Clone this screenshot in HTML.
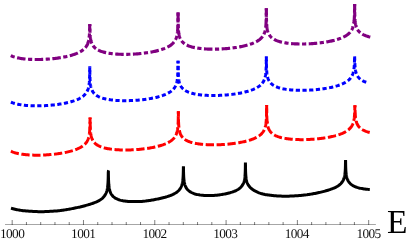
<!DOCTYPE html>
<html><head><meta charset="utf-8"><title>plot</title>
<style>
html,body{margin:0;padding:0;background:#fff;overflow:hidden}
svg{display:block}
.c{fill:none;stroke-width:3;stroke-linejoin:miter;stroke-miterlimit:3;stroke-linecap:butt}
.t{text-rendering:geometricPrecision;font-family:"Liberation Serif",serif;font-size:13.3px;letter-spacing:-0.6px;text-anchor:middle;fill:#111}
.e{font-family:"Liberation Serif",serif;font-size:33.5px;fill:#000}
</style></head><body>
<svg width="407" height="241" viewBox="0 0 407 241">
<rect width="407" height="241" fill="#fff"/>
<path class="c" style="stroke-width:3.15" stroke="#800080" stroke-dasharray="4.2 2.5 8.5 2.5" stroke-dashoffset="0" d="M10.75 55.66 L11.75 56.09 L12.75 56.47 L13.75 56.82 L14.75 57.12 L15.75 57.4 L16.75 57.65 L17.75 57.87 L18.75 58.07 L19.75 58.26 L20.75 58.43 L21.75 58.58 L22.75 58.72 L23.75 58.84 L24.75 58.95 L25.75 59.05 L26.75 59.14 L27.75 59.21 L28.75 59.28 L29.75 59.34 L30.75 59.39 L31.75 59.43 L32.75 59.47 L33.75 59.49 L34.75 59.51 L35.75 59.52 L36.75 59.52 L37.75 59.52 L38.75 59.51 L39.75 59.49 L40.75 59.47 L41.75 59.44 L42.75 59.4 L43.75 59.36 L44.75 59.31 L45.75 59.25 L46.75 59.19 L47.75 59.12 L48.75 59.04 L49.75 58.96 L50.75 58.87 L51.75 58.78 L52.75 58.68 L53.75 58.57 L54.75 58.45 L55.75 58.33 L56.75 58.2 L57.75 58.07 L58.75 57.92 L59.75 57.77 L60.75 57.61 L61.75 57.44 L62.75 57.26 L63.75 57.07 L64.75 56.88 L65.75 56.67 L66.75 56.45 L67.75 56.22 L68.75 55.98 L69.75 55.72 L70.75 55.45 L71.75 55.16 L72.75 54.85 L73.75 54.53 L74.75 54.18 L75.75 53.81 L76.75 53.41 L77.75 52.98 L78.75 52.51 L79.75 52 L80.75 51.43 L81.75 50.81 L81.78 50.79 L82.75 50.1 L82.78 50.08 L83.75 49.29 L83.78 49.26 L84.75 48.33 L84.78 48.3 L85.75 47.18 L85.78 47.14 L86.28 46.44 L86.75 45.7 L86.78 45.65 L87.28 44.71 L87.75 43.64 L87.78 43.57 L88.03 42.89 L88.28 42.1 L88.53 41.18 L88.75 40.2 L88.78 40.05 L88.98 38.92 L89.13 37.87 L89.28 36.55 L89.38 35.43 L89.48 33.99 L89.58 31.95 L89.63 30.51 L89.68 28.48 L89.73 25.01 L89.78 24.15"/>
<path class="c" style="stroke-width:3.15" stroke="#800080" stroke-dasharray="4.2 2.5 8.5 2.5" stroke-dashoffset="13.33" d="M89.78 24.15 L89.83 25.01 L89.88 28.47 L89.93 30.49 L89.98 31.93 L90.08 33.95 L90.18 35.38 L90.28 36.49 L90.43 37.8 L90.58 38.83 L90.75 39.78 L90.78 39.93 L91.03 41.03 L91.28 41.93 L91.53 42.68 L91.75 43.26 L91.78 43.33 L92.28 44.42 L92.75 45.25 L92.78 45.3 L93.28 46.03 L93.75 46.63 L93.78 46.67 L94.75 47.69 L94.78 47.72 L95.75 48.53 L95.78 48.56 L96.75 49.24 L96.78 49.26 L97.75 49.83 L97.78 49.85 L98.75 50.35 L99.75 50.8 L100.75 51.19 L101.75 51.55 L102.75 51.86 L103.75 52.15 L104.75 52.4 L105.75 52.63 L106.75 52.84 L107.75 53.03 L108.75 53.2 L109.75 53.36 L110.75 53.5 L111.75 53.63 L112.75 53.74 L113.75 53.85 L114.75 53.94 L115.75 54.02 L116.75 54.09 L117.75 54.15 L118.75 54.2 L119.75 54.25 L120.75 54.28 L121.75 54.31 L122.75 54.33 L123.75 54.34 L124.75 54.35 L125.75 54.34 L126.75 54.34 L127.75 54.32 L128.75 54.3 L129.75 54.27 L130.75 54.23 L131.75 54.19 L132.75 54.14 L133.75 54.09 L134.75 54.03 L135.75 53.96 L136.75 53.89 L137.75 53.81 L138.75 53.72 L139.75 53.63 L140.75 53.53 L141.75 53.42 L142.75 53.31 L143.75 53.19 L144.75 53.06 L145.75 52.93 L146.75 52.79 L147.75 52.64 L148.75 52.48 L149.75 52.31 L150.75 52.14 L151.75 51.95 L152.75 51.76 L153.75 51.55 L154.75 51.34 L155.75 51.11 L156.75 50.87 L157.75 50.62 L158.75 50.35 L159.75 50.06 L160.75 49.76 L161.75 49.44 L162.75 49.1 L163.75 48.74 L164.75 48.35 L165.75 47.93 L166.75 47.47 L167.75 46.97 L168.75 46.42 L169.75 45.81 L170.06 45.61 L170.75 45.13 L171.06 44.9 L171.75 44.35 L172.06 44.08 L172.75 43.44 L173.06 43.13 L173.75 42.35 L174.06 41.96 L174.56 41.27 L174.75 40.98 L175.06 40.47 L175.56 39.53 L175.75 39.13 L176.06 38.39 L176.31 37.71 L176.56 36.92 L176.75 36.24 L176.81 36 L177.06 34.87 L177.26 33.74 L177.41 32.7 L177.56 31.38 L177.66 30.25 L177.75 28.97 L177.76 28.81 L177.86 26.78 L177.91 25.34 L177.96 23.3 L178.01 19.84 L178.06 12.35"/>
<path class="c" style="stroke-width:3.15" stroke="#800080" stroke-dasharray="4.2 2.5 8.5 2.5" stroke-dashoffset="6.25" d="M178.06 12.35 L178.11 19.83 L178.16 23.29 L178.21 25.32 L178.26 26.75 L178.36 28.77 L178.46 30.21 L178.56 31.32 L178.71 32.62 L178.75 32.92 L178.86 33.65 L179.06 34.75 L179.31 35.85 L179.56 36.75 L179.75 37.33 L179.81 37.5 L180.06 38.16 L180.56 39.24 L180.75 39.59 L181.06 40.12 L181.56 40.86 L181.75 41.11 L182.06 41.49 L182.75 42.24 L183.06 42.54 L183.75 43.14 L184.06 43.38 L184.75 43.88 L185.06 44.08 L185.75 44.5 L186.06 44.67 L186.75 45.03 L187.75 45.5 L188.75 45.91 L189.75 46.28 L190.75 46.6 L191.75 46.89 L192.75 47.16 L193.75 47.39 L194.75 47.61 L195.75 47.8 L196.75 47.98 L197.75 48.14 L198.75 48.29 L199.75 48.42 L200.75 48.54 L201.75 48.64 L202.75 48.74 L203.75 48.82 L204.75 48.89 L205.75 48.96 L206.75 49.01 L207.75 49.06 L208.75 49.1 L209.75 49.12 L210.75 49.15 L211.75 49.16 L212.75 49.17 L213.75 49.17 L214.75 49.16 L215.75 49.15 L216.75 49.13 L217.75 49.1 L218.75 49.07 L219.75 49.03 L220.75 48.98 L221.75 48.93 L222.75 48.87 L223.75 48.8 L224.75 48.73 L225.75 48.65 L226.75 48.57 L227.75 48.48 L228.75 48.38 L229.75 48.28 L230.75 48.17 L231.75 48.05 L232.75 47.92 L233.75 47.79 L234.75 47.65 L235.75 47.5 L236.75 47.35 L237.75 47.18 L238.75 47.01 L239.75 46.83 L240.75 46.64 L241.75 46.43 L242.75 46.22 L243.75 46 L244.75 45.76 L245.75 45.51 L246.75 45.25 L247.75 44.97 L248.75 44.67 L249.75 44.36 L250.75 44.02 L251.75 43.67 L252.75 43.28 L253.75 42.87 L254.75 42.42 L255.75 41.94 L256.75 41.4 L257.75 40.81 L258.34 40.43 L258.75 40.15 L259.34 39.72 L259.75 39.4 L260.34 38.91 L260.75 38.53 L261.34 37.95 L261.75 37.5 L262.34 36.78 L262.75 36.22 L262.84 36.09 L263.34 35.29 L263.75 34.54 L263.84 34.36 L264.34 33.21 L264.59 32.53 L264.75 32.04 L264.84 31.75 L265.09 30.82 L265.34 29.69 L265.54 28.57 L265.69 27.52 L265.75 27.03 L265.84 26.2 L265.94 25.08 L266.04 23.63 L266.14 21.6 L266.19 20.16 L266.24 18.13 L266.29 14.66 L266.34 8.15"/>
<path class="c" style="stroke-width:3.15" stroke="#800080" stroke-dasharray="4.2 2.5 8.5 2.5" stroke-dashoffset="8.42" d="M266.34 8.15 L266.39 14.65 L266.44 18.12 L266.49 20.14 L266.54 21.58 L266.64 23.6 L266.74 25.03 L266.75 25.15 L266.84 26.14 L266.99 27.44 L267.14 28.47 L267.34 29.58 L267.59 30.68 L267.75 31.27 L267.84 31.57 L268.09 32.33 L268.34 32.98 L268.75 33.89 L268.84 34.06 L269.34 34.94 L269.75 35.56 L269.84 35.68 L270.34 36.32 L270.75 36.78 L271.34 37.36 L271.75 37.73 L272.34 38.2 L272.75 38.51 L273.34 38.9 L273.75 39.16 L274.34 39.5 L274.75 39.71 L275.75 40.2 L276.75 40.62 L277.75 41 L278.75 41.34 L279.75 41.64 L280.75 41.91 L281.75 42.15 L282.75 42.37 L283.75 42.58 L284.75 42.76 L285.75 42.92 L286.75 43.07 L287.75 43.21 L288.75 43.33 L289.75 43.44 L290.75 43.53 L291.75 43.62 L292.75 43.7 L293.75 43.76 L294.75 43.82 L295.75 43.87 L296.75 43.91 L297.75 43.94 L298.75 43.96 L299.75 43.98 L300.75 43.99 L301.75 43.99 L302.75 43.99 L303.75 43.98 L304.75 43.96 L305.75 43.93 L306.75 43.9 L307.75 43.86 L308.75 43.82 L309.75 43.77 L310.75 43.71 L311.75 43.65 L312.75 43.58 L313.75 43.5 L314.75 43.42 L315.75 43.33 L316.75 43.23 L317.75 43.13 L318.75 43.02 L319.75 42.91 L320.75 42.78 L321.75 42.65 L322.75 42.51 L323.75 42.37 L324.75 42.21 L325.75 42.05 L326.75 41.88 L327.75 41.7 L328.75 41.51 L329.75 41.31 L330.75 41.1 L331.75 40.88 L332.75 40.65 L333.75 40.41 L334.75 40.15 L335.75 39.87 L336.75 39.58 L337.75 39.27 L338.75 38.94 L339.75 38.59 L340.75 38.22 L341.75 37.81 L342.75 37.38 L343.75 36.9 L344.75 36.38 L345.75 35.81 L346.62 35.26 L346.75 35.17 L347.62 34.55 L347.75 34.45 L348.62 33.73 L348.75 33.62 L349.62 32.77 L349.75 32.63 L350.62 31.61 L350.75 31.44 L351.12 30.91 L351.62 30.12 L351.75 29.89 L352.12 29.18 L352.62 28.04 L352.75 27.69 L352.87 27.36 L353.12 26.57 L353.37 25.65 L353.62 24.52 L353.75 23.81 L353.82 23.39 L353.97 22.34 L354.12 21.02 L354.22 19.9 L354.32 18.46 L354.42 16.42 L354.47 14.98 L354.52 12.95 L354.57 9.48 L354.62 4.05"/>
<path class="c" style="stroke-width:3.15" stroke="#800080" stroke-dasharray="4.2 2.5 8.5 2.5" stroke-dashoffset="9.43" d="M354.62 4.05 L354.67 9.48 L354.72 12.94 L354.75 14.25 L354.77 14.96 L354.82 16.4 L354.92 18.42 L355.02 19.85 L355.12 20.96 L355.27 22.27 L355.42 23.3 L355.62 24.4 L355.75 25 L355.87 25.5 L356.12 26.4 L356.37 27.15 L356.62 27.8 L356.75 28.11 L357.12 28.89 L357.62 29.77 L357.75 29.97 L358.12 30.5 L358.62 31.14 L358.75 31.29 L359.62 32.19 L359.75 32.31 L360.62 33.03 L360.75 33.13 L361.62 33.73 L361.75 33.81 L362.62 34.32 L362.75 34.39 L363.75 34.89 L364.75 35.33 L365.75 35.72 L366.75 36.07 L367.75 36.38 L368.75 36.66 L369.75 36.91 L370.5 37.08"/>
<path class="c" stroke="#0000ff" stroke-dasharray="4.2 2.5" stroke-dashoffset="0" d="M10.9 102.07 L11.9 102.5 L12.9 102.88 L13.9 103.21 L14.9 103.52 L15.9 103.79 L16.9 104.03 L17.9 104.25 L18.9 104.45 L19.9 104.64 L20.9 104.8 L21.9 104.95 L22.9 105.08 L23.9 105.21 L24.9 105.32 L25.9 105.41 L26.9 105.5 L27.9 105.58 L28.9 105.64 L29.9 105.7 L30.9 105.75 L31.9 105.79 L32.9 105.82 L33.9 105.84 L34.9 105.86 L35.9 105.87 L36.9 105.87 L37.9 105.87 L38.9 105.86 L39.9 105.84 L40.9 105.81 L41.9 105.78 L42.9 105.74 L43.9 105.7 L44.9 105.65 L45.9 105.59 L46.9 105.53 L47.9 105.46 L48.9 105.38 L49.9 105.3 L50.9 105.21 L51.9 105.11 L52.9 105.01 L53.9 104.9 L54.9 104.79 L55.9 104.66 L56.9 104.53 L57.9 104.4 L58.9 104.25 L59.9 104.1 L60.9 103.93 L61.9 103.76 L62.9 103.58 L63.9 103.4 L64.9 103.2 L65.9 102.99 L66.9 102.77 L67.9 102.53 L68.9 102.29 L69.9 102.03 L70.9 101.75 L71.9 101.46 L72.9 101.15 L73.9 100.83 L74.9 100.48 L75.9 100.1 L76.9 99.7 L77.9 99.26 L78.9 98.79 L79.9 98.27 L80.9 97.7 L81.78 97.14 L81.9 97.06 L82.78 96.43 L82.9 96.34 L83.78 95.61 L83.9 95.5 L84.78 94.65 L84.9 94.53 L85.78 93.49 L85.9 93.33 L86.28 92.79 L86.78 92 L86.9 91.79 L87.28 91.06 L87.78 89.92 L87.9 89.6 L88.03 89.24 L88.28 88.45 L88.53 87.53 L88.78 86.4 L88.9 85.75 L88.98 85.27 L89.13 84.22 L89.28 82.9 L89.38 81.78 L89.48 80.34 L89.58 78.3 L89.63 76.86 L89.68 74.83 L89.73 71.36 L89.78 66.3"/>
<path class="c" stroke="#0000ff" stroke-dasharray="4.2 2.5" stroke-dashoffset="2.71" d="M89.78 66.3 L89.83 71.36 L89.88 74.82 L89.9 75.73 L89.93 76.84 L89.98 78.28 L90.08 80.3 L90.18 81.73 L90.28 82.84 L90.43 84.15 L90.58 85.18 L90.78 86.28 L90.9 86.84 L91.03 87.38 L91.28 88.28 L91.53 89.03 L91.78 89.68 L91.9 89.97 L92.28 90.77 L92.78 91.65 L92.9 91.83 L93.28 92.38 L93.78 93.02 L93.9 93.16 L94.78 94.07 L94.9 94.18 L95.78 94.91 L95.9 95 L96.78 95.61 L96.9 95.68 L97.78 96.2 L97.9 96.26 L98.9 96.77 L99.9 97.21 L100.9 97.6 L101.9 97.95 L102.9 98.26 L103.9 98.54 L104.9 98.79 L105.9 99.02 L106.9 99.22 L107.9 99.41 L108.9 99.58 L109.9 99.73 L110.9 99.87 L111.9 100 L112.9 100.11 L113.9 100.21 L114.9 100.3 L115.9 100.38 L116.9 100.45 L117.9 100.51 L118.9 100.56 L119.9 100.6 L120.9 100.64 L121.9 100.66 L122.9 100.68 L123.9 100.69 L124.9 100.7 L125.9 100.69 L126.9 100.68 L127.9 100.67 L128.9 100.64 L129.9 100.61 L130.9 100.58 L131.9 100.53 L132.9 100.49 L133.9 100.43 L134.9 100.37 L135.9 100.3 L136.9 100.23 L137.9 100.15 L138.9 100.06 L139.9 99.96 L140.9 99.86 L141.9 99.76 L142.9 99.64 L143.9 99.52 L144.9 99.39 L145.9 99.26 L146.9 99.11 L147.9 98.96 L148.9 98.8 L149.9 98.64 L150.9 98.46 L151.9 98.27 L152.9 98.08 L153.9 97.87 L154.9 97.65 L155.9 97.42 L156.9 97.18 L157.9 96.93 L158.9 96.66 L159.9 96.37 L160.9 96.07 L161.9 95.74 L162.9 95.4 L163.9 95.03 L164.9 94.64 L165.9 94.21 L166.9 93.75 L167.9 93.24 L168.9 92.68 L169.9 92.07 L170.06 91.96 L170.9 91.37 L171.06 91.25 L171.9 90.57 L172.06 90.43 L172.9 89.64 L173.06 89.48 L173.9 88.52 L174.06 88.31 L174.56 87.62 L174.9 87.09 L175.06 86.82 L175.56 85.88 L175.9 85.13 L176.06 84.74 L176.31 84.06 L176.56 83.27 L176.81 82.35 L176.9 81.97 L177.06 81.22 L177.26 80.09 L177.41 79.05 L177.56 77.73 L177.66 76.6 L177.76 75.16 L177.86 73.13 L177.9 72.01 L177.91 71.69 L177.96 69.65 L178.01 66.19 L178.06 60.7"/>
<path class="c" stroke="#0000ff" stroke-dasharray="4.2 2.5" stroke-dashoffset="1.43" d="M178.06 60.7 L178.11 66.18 L178.16 69.64 L178.21 71.67 L178.26 73.1 L178.36 75.12 L178.46 76.56 L178.56 77.67 L178.71 78.97 L178.86 80 L178.9 80.24 L179.06 81.1 L179.31 82.2 L179.56 83.1 L179.81 83.85 L179.9 84.1 L180.06 84.51 L180.56 85.59 L180.9 86.21 L181.06 86.47 L181.56 87.21 L181.9 87.65 L182.06 87.84 L182.9 88.74 L183.06 88.89 L183.9 89.61 L184.06 89.73 L184.9 90.33 L185.06 90.43 L185.9 90.93 L186.06 91.02 L186.9 91.46 L187.9 91.91 L188.9 92.32 L189.9 92.68 L190.9 93 L191.9 93.28 L192.9 93.54 L193.9 93.78 L194.9 93.99 L195.9 94.18 L196.9 94.36 L197.9 94.51 L198.9 94.66 L199.9 94.79 L200.9 94.9 L201.9 95.01 L202.9 95.1 L203.9 95.18 L204.9 95.25 L205.9 95.32 L206.9 95.37 L207.9 95.41 L208.9 95.45 L209.9 95.48 L210.9 95.5 L211.9 95.51 L212.9 95.52 L213.9 95.52 L214.9 95.51 L215.9 95.5 L216.9 95.47 L217.9 95.45 L218.9 95.41 L219.9 95.37 L220.9 95.32 L221.9 95.27 L222.9 95.21 L223.9 95.14 L224.9 95.07 L225.9 94.99 L226.9 94.91 L227.9 94.81 L228.9 94.72 L229.9 94.61 L230.9 94.5 L231.9 94.38 L232.9 94.25 L233.9 94.12 L234.9 93.98 L235.9 93.83 L236.9 93.67 L237.9 93.51 L238.9 93.33 L239.9 93.15 L240.9 92.96 L241.9 92.75 L242.9 92.54 L243.9 92.31 L244.9 92.07 L245.9 91.82 L246.9 91.56 L247.9 91.28 L248.9 90.98 L249.9 90.66 L250.9 90.32 L251.9 89.96 L252.9 89.57 L253.9 89.15 L254.9 88.7 L255.9 88.21 L256.9 87.67 L257.9 87.07 L258.34 86.78 L258.9 86.4 L259.34 86.07 L259.9 85.63 L260.34 85.26 L260.9 84.74 L261.34 84.3 L261.9 83.68 L262.34 83.13 L262.84 82.44 L262.9 82.35 L263.34 81.64 L263.84 80.71 L263.9 80.58 L264.34 79.56 L264.59 78.88 L264.84 78.1 L264.9 77.89 L265.09 77.17 L265.34 76.04 L265.54 74.92 L265.69 73.87 L265.84 72.55 L265.9 71.91 L265.94 71.43 L266.04 69.98 L266.14 67.95 L266.19 66.51 L266.24 64.48 L266.29 61.01 L266.34 56.3"/>
<path class="c" stroke="#0000ff" stroke-dasharray="4.2 2.5" stroke-dashoffset="6" d="M266.34 56.3 L266.39 61 L266.44 64.47 L266.49 66.49 L266.54 67.93 L266.64 69.95 L266.74 71.38 L266.84 72.49 L266.9 73.05 L266.99 73.79 L267.14 74.82 L267.34 75.93 L267.59 77.03 L267.84 77.92 L267.9 78.11 L268.09 78.68 L268.34 79.33 L268.84 80.41 L268.9 80.53 L269.34 81.29 L269.84 82.03 L269.9 82.11 L270.34 82.67 L270.9 83.28 L271.34 83.71 L271.9 84.2 L272.34 84.55 L272.9 84.96 L273.34 85.25 L273.9 85.6 L274.34 85.85 L274.9 86.14 L275.9 86.62 L276.9 87.03 L277.9 87.4 L278.9 87.73 L279.9 88.03 L280.9 88.3 L281.9 88.54 L282.9 88.76 L283.9 88.95 L284.9 89.13 L285.9 89.3 L286.9 89.44 L287.9 89.57 L288.9 89.69 L289.9 89.8 L290.9 89.9 L291.9 89.98 L292.9 90.06 L293.9 90.12 L294.9 90.18 L295.9 90.23 L296.9 90.26 L297.9 90.29 L298.9 90.32 L299.9 90.33 L300.9 90.34 L301.9 90.34 L302.9 90.34 L303.9 90.32 L304.9 90.3 L305.9 90.28 L306.9 90.25 L307.9 90.21 L308.9 90.16 L309.9 90.11 L310.9 90.05 L311.9 89.99 L312.9 89.92 L313.9 89.84 L314.9 89.75 L315.9 89.66 L316.9 89.57 L317.9 89.46 L318.9 89.35 L319.9 89.24 L320.9 89.11 L321.9 88.98 L322.9 88.84 L323.9 88.7 L324.9 88.54 L325.9 88.38 L326.9 88.21 L327.9 88.02 L328.9 87.83 L329.9 87.63 L330.9 87.42 L331.9 87.2 L332.9 86.97 L333.9 86.72 L334.9 86.46 L335.9 86.18 L336.9 85.89 L337.9 85.57 L338.9 85.24 L339.9 84.89 L340.9 84.51 L341.9 84.1 L342.9 83.66 L343.9 83.18 L344.9 82.65 L345.9 82.07 L346.62 81.61 L346.9 81.42 L347.62 80.9 L347.9 80.68 L348.62 80.08 L348.9 79.83 L349.62 79.12 L349.9 78.82 L350.62 77.96 L350.9 77.58 L351.12 77.26 L351.62 76.47 L351.9 75.96 L352.12 75.53 L352.62 74.39 L352.87 73.71 L352.9 73.62 L353.12 72.92 L353.37 72 L353.62 70.87 L353.82 69.74 L353.9 69.21 L353.97 68.69 L354.12 67.37 L354.22 66.25 L354.32 64.81 L354.42 62.77 L354.47 61.33 L354.52 59.3 L354.62 56.3"/>
<path class="c" stroke="#0000ff" stroke-dasharray="4.2 2.5" stroke-dashoffset="6.62" d="M354.62 56.3 L354.72 59.29 L354.77 61.31 L354.82 62.75 L354.9 64.43 L354.92 64.77 L355.02 66.2 L355.12 67.31 L355.27 68.62 L355.42 69.65 L355.62 70.75 L355.87 71.85 L355.9 71.97 L356.12 72.75 L356.37 73.5 L356.62 74.15 L356.9 74.79 L357.12 75.24 L357.62 76.12 L357.9 76.54 L358.12 76.85 L358.62 77.49 L358.9 77.81 L359.62 78.54 L359.9 78.79 L360.62 79.38 L360.9 79.59 L361.62 80.08 L361.9 80.25 L362.62 80.67 L362.9 80.82 L363.9 81.31 L364.9 81.74 L365.9 82.13 L366.9 82.47 L367.5 82.66"/>
<path class="c" stroke="#ff0000" stroke-dasharray="8.3 2.6" stroke-dashoffset="0" d="M10.9 151.24 L11.9 151.68 L12.9 152.07 L13.9 152.42 L14.9 152.73 L15.9 153.01 L16.9 153.26 L17.9 153.49 L18.9 153.7 L19.9 153.88 L20.9 154.05 L21.9 154.21 L22.9 154.35 L23.9 154.47 L24.9 154.58 L25.9 154.68 L26.9 154.77 L27.9 154.85 L28.9 154.92 L29.9 154.98 L30.9 155.03 L31.9 155.08 L32.9 155.11 L33.9 155.14 L34.9 155.16 L35.9 155.17 L36.9 155.17 L37.9 155.17 L38.9 155.16 L39.9 155.14 L40.9 155.12 L41.9 155.09 L42.9 155.06 L43.9 155.01 L44.9 154.96 L45.9 154.91 L46.9 154.85 L47.9 154.78 L48.9 154.7 L49.9 154.62 L50.9 154.54 L51.9 154.44 L52.9 154.34 L53.9 154.24 L54.9 154.12 L55.9 154 L56.9 153.87 L57.9 153.74 L58.9 153.59 L59.9 153.44 L60.9 153.28 L61.9 153.12 L62.9 152.94 L63.9 152.75 L64.9 152.56 L65.9 152.35 L66.9 152.13 L67.9 151.9 L68.9 151.66 L69.9 151.41 L70.9 151.14 L71.9 150.85 L72.9 150.55 L73.9 150.23 L74.9 149.88 L75.9 149.52 L76.9 149.12 L77.9 148.69 L78.9 148.23 L79.9 147.73 L80.9 147.17 L81.9 146.56 L82.08 146.44 L82.9 145.86 L83.08 145.73 L83.9 145.07 L84.08 144.91 L84.9 144.14 L85.08 143.95 L85.9 143.02 L86.08 142.79 L86.58 142.09 L86.9 141.6 L87.08 141.3 L87.58 140.36 L87.9 139.66 L88.08 139.22 L88.33 138.54 L88.58 137.75 L88.83 136.83 L88.9 136.53 L89.08 135.7 L89.28 134.57 L89.43 133.52 L89.58 132.2 L89.68 131.08 L89.78 129.64 L89.88 127.6 L89.9 127.08 L89.93 126.16 L89.98 124.13 L90.03 120.66 L90.08 117.5"/>
<path class="c" stroke="#ff0000" stroke-dasharray="8.3 2.6" stroke-dashoffset="6.74" d="M90.08 117.5 L90.13 120.66 L90.18 124.12 L90.23 126.14 L90.28 127.58 L90.38 129.6 L90.48 131.03 L90.58 132.14 L90.73 133.45 L90.88 134.48 L90.9 134.6 L91.08 135.58 L91.33 136.68 L91.58 137.58 L91.83 138.33 L91.9 138.52 L92.08 138.98 L92.58 140.07 L92.9 140.65 L93.08 140.95 L93.58 141.68 L93.9 142.1 L94.08 142.32 L94.9 143.2 L95.08 143.37 L95.9 144.07 L96.08 144.21 L96.9 144.79 L97.08 144.91 L97.9 145.4 L98.08 145.5 L98.9 145.92 L99.9 146.38 L100.9 146.79 L101.9 147.15 L102.9 147.47 L103.9 147.76 L104.9 148.02 L105.9 148.25 L106.9 148.46 L107.9 148.66 L108.9 148.83 L109.9 148.99 L110.9 149.13 L111.9 149.26 L112.9 149.38 L113.9 149.48 L114.9 149.57 L115.9 149.66 L116.9 149.73 L117.9 149.79 L118.9 149.84 L119.9 149.89 L120.9 149.93 L121.9 149.96 L122.9 149.98 L123.9 149.99 L124.9 150 L125.9 149.99 L126.9 149.99 L127.9 149.97 L128.9 149.95 L129.9 149.92 L130.9 149.89 L131.9 149.85 L132.9 149.8 L133.9 149.75 L134.9 149.69 L135.9 149.62 L136.9 149.55 L137.9 149.47 L138.9 149.39 L139.9 149.29 L140.9 149.19 L141.9 149.09 L142.9 148.98 L143.9 148.86 L144.9 148.73 L145.9 148.6 L146.9 148.46 L147.9 148.31 L148.9 148.15 L149.9 147.99 L150.9 147.81 L151.9 147.63 L152.9 147.44 L153.9 147.23 L154.9 147.02 L155.9 146.79 L156.9 146.56 L157.9 146.3 L158.9 146.04 L159.9 145.76 L160.9 145.46 L161.9 145.14 L162.9 144.81 L163.9 144.44 L164.9 144.06 L165.9 143.64 L166.9 143.19 L167.9 142.7 L168.9 142.16 L169.9 141.56 L170.36 141.26 L170.9 140.89 L171.36 140.55 L171.9 140.12 L172.36 139.73 L172.9 139.24 L173.36 138.78 L173.9 138.18 L174.36 137.61 L174.86 136.92 L174.9 136.86 L175.36 136.12 L175.86 135.18 L175.9 135.1 L176.36 134.04 L176.61 133.36 L176.86 132.57 L176.9 132.44 L177.11 131.65 L177.36 130.52 L177.56 129.39 L177.71 128.35 L177.86 127.03 L177.9 126.61 L177.96 125.9 L178.06 124.46 L178.16 122.43 L178.21 120.99 L178.26 118.95 L178.31 115.49 L178.36 111.3"/>
<path class="c" stroke="#ff0000" stroke-dasharray="8.3 2.6" stroke-dashoffset="2.81" d="M178.36 111.3 L178.41 115.48 L178.46 118.94 L178.51 120.97 L178.56 122.4 L178.66 124.42 L178.76 125.86 L178.86 126.97 L178.9 127.35 L179.01 128.27 L179.16 129.3 L179.36 130.4 L179.61 131.5 L179.86 132.4 L179.9 132.53 L180.11 133.15 L180.36 133.81 L180.86 134.89 L180.9 134.97 L181.36 135.77 L181.86 136.51 L181.9 136.56 L182.36 137.14 L182.9 137.74 L183.36 138.19 L183.9 138.66 L184.36 139.03 L184.9 139.42 L185.36 139.73 L185.9 140.06 L186.36 140.32 L186.9 140.61 L187.9 141.08 L188.9 141.5 L189.9 141.87 L190.9 142.2 L191.9 142.5 L192.9 142.77 L193.9 143.01 L194.9 143.23 L195.9 143.43 L196.9 143.61 L197.9 143.77 L198.9 143.92 L199.9 144.05 L200.9 144.17 L201.9 144.28 L202.9 144.37 L203.9 144.46 L204.9 144.53 L205.9 144.6 L206.9 144.65 L207.9 144.7 L208.9 144.74 L209.9 144.77 L210.9 144.79 L211.9 144.81 L212.9 144.82 L213.9 144.82 L214.9 144.81 L215.9 144.8 L216.9 144.78 L217.9 144.76 L218.9 144.72 L219.9 144.68 L220.9 144.64 L221.9 144.59 L222.9 144.53 L223.9 144.46 L224.9 144.39 L225.9 144.32 L226.9 144.23 L227.9 144.14 L228.9 144.05 L229.9 143.94 L230.9 143.83 L231.9 143.72 L232.9 143.59 L233.9 143.46 L234.9 143.32 L235.9 143.18 L236.9 143.02 L237.9 142.86 L238.9 142.69 L239.9 142.51 L240.9 142.32 L241.9 142.11 L242.9 141.9 L243.9 141.68 L244.9 141.45 L245.9 141.2 L246.9 140.94 L247.9 140.66 L248.9 140.37 L249.9 140.06 L250.9 139.73 L251.9 139.37 L252.9 138.99 L253.9 138.58 L254.9 138.14 L255.9 137.66 L256.9 137.14 L257.9 136.56 L258.64 136.08 L258.9 135.91 L259.64 135.37 L259.9 135.17 L260.64 134.56 L260.9 134.32 L261.64 133.6 L261.9 133.32 L262.64 132.43 L262.9 132.09 L263.14 131.74 L263.64 130.94 L263.9 130.48 L264.14 130.01 L264.64 128.86 L264.89 128.18 L264.9 128.15 L265.14 127.4 L265.39 126.47 L265.64 125.34 L265.84 124.22 L265.9 123.82 L265.99 123.17 L266.14 121.85 L266.24 120.73 L266.34 119.28 L266.44 117.25 L266.49 115.81 L266.54 113.78 L266.59 110.31 L266.64 105"/>
<path class="c" stroke="#ff0000" stroke-dasharray="8.3 2.6" stroke-dashoffset="0.33" d="M266.64 105 L266.69 110.3 L266.74 113.77 L266.79 115.79 L266.84 117.23 L266.9 118.53 L266.94 119.25 L267.04 120.68 L267.14 121.79 L267.29 123.09 L267.44 124.12 L267.64 125.23 L267.89 126.33 L267.9 126.37 L268.14 127.22 L268.39 127.98 L268.64 128.63 L268.9 129.22 L269.14 129.71 L269.64 130.59 L269.9 130.99 L270.14 131.33 L270.64 131.97 L270.9 132.26 L271.64 133.01 L271.9 133.25 L272.64 133.85 L272.9 134.05 L273.64 134.55 L273.9 134.72 L274.64 135.15 L274.9 135.29 L275.9 135.78 L276.9 136.21 L277.9 136.6 L278.9 136.94 L279.9 137.24 L280.9 137.52 L281.9 137.77 L282.9 137.99 L283.9 138.2 L284.9 138.38 L285.9 138.55 L286.9 138.7 L287.9 138.84 L288.9 138.96 L289.9 139.07 L290.9 139.17 L291.9 139.26 L292.9 139.34 L293.9 139.4 L294.9 139.46 L295.9 139.51 L296.9 139.55 L297.9 139.59 L298.9 139.61 L299.9 139.63 L300.9 139.64 L301.9 139.64 L302.9 139.64 L303.9 139.63 L304.9 139.61 L305.9 139.59 L306.9 139.56 L307.9 139.52 L308.9 139.47 L309.9 139.43 L310.9 139.37 L311.9 139.31 L312.9 139.24 L313.9 139.16 L314.9 139.08 L315.9 138.99 L316.9 138.9 L317.9 138.8 L318.9 138.69 L319.9 138.57 L320.9 138.45 L321.9 138.32 L322.9 138.18 L323.9 138.04 L324.9 137.89 L325.9 137.73 L326.9 137.56 L327.9 137.38 L328.9 137.19 L329.9 137 L330.9 136.79 L331.9 136.57 L332.9 136.34 L333.9 136.09 L334.9 135.84 L335.9 135.56 L336.9 135.28 L337.9 134.97 L338.9 134.64 L339.9 134.3 L340.9 133.92 L341.9 133.52 L342.9 133.09 L343.9 132.62 L344.9 132.11 L345.9 131.55 L346.9 130.92 L346.92 130.91 L347.9 130.21 L347.92 130.2 L348.9 129.4 L348.92 129.38 L349.9 128.44 L349.92 128.42 L350.9 127.28 L350.92 127.26 L351.42 126.56 L351.9 125.8 L351.92 125.77 L352.42 124.83 L352.9 123.74 L352.92 123.69 L353.17 123.01 L353.42 122.22 L353.67 121.3 L353.9 120.27 L353.92 120.17 L354.12 119.04 L354.27 117.99 L354.42 116.67 L354.52 115.55 L354.62 114.11 L354.72 112.07 L354.77 110.63 L354.82 108.6 L354.92 105.3"/>
<path class="c" stroke="#ff0000" stroke-dasharray="8.3 2.6" stroke-dashoffset="6.25" d="M354.92 105.3 L355.02 108.59 L355.07 110.61 L355.12 112.05 L355.22 114.07 L355.32 115.5 L355.42 116.61 L355.57 117.92 L355.72 118.95 L355.9 119.95 L355.92 120.05 L356.17 121.15 L356.42 122.05 L356.67 122.8 L356.9 123.4 L356.92 123.45 L357.42 124.54 L357.9 125.38 L357.92 125.42 L358.42 126.15 L358.9 126.76 L358.92 126.79 L359.9 127.82 L359.92 127.84 L360.9 128.66 L360.92 128.68 L361.9 129.36 L361.92 129.38 L362.9 129.96 L362.92 129.97 L363.9 130.47 L364.9 130.92 L365.9 131.32 L366.9 131.67 L367.9 131.99 L368.9 132.27 L369.7 132.48"/>
<path class="c" stroke="#000" d="M11 208.18 L12 208.46 L13 208.73 L14 208.99 L15 209.23 L16 209.45 L17 209.67 L18 209.87 L19 210.06 L20 210.23 L21 210.38 L22 210.51 L23 210.64 L24 210.75 L25 210.85 L26 210.94 L27 211.02 L28 211.08 L29 211.14 L30 211.19 L31 211.28 L32 211.36 L33 211.43 L34 211.49 L35 211.54 L36 211.59 L37 211.62 L38 211.65 L39 211.66 L40 211.67 L41 211.67 L42 211.67 L43 211.65 L44 211.63 L45 211.6 L46 211.57 L47 211.53 L48 211.48 L49 211.42 L50 211.36 L51 211.31 L52 211.26 L53 211.19 L54 211.12 L55 211.05 L56 210.97 L57 210.89 L58 210.8 L59 210.71 L60 210.61 L61 210.47 L62 210.33 L63 210.18 L64 210.03 L65 209.87 L66 209.71 L67 209.55 L68 209.39 L69 209.22 L70 209.04 L71 208.85 L72 208.65 L73 208.45 L74 208.25 L75 208.04 L76 207.83 L77 207.62 L78 207.4 L79 207.18 L80 206.96 L81 206.71 L82 206.46 L83 206.21 L84 205.95 L85 205.68 L86 205.41 L87 205.13 L88 204.85 L89 204.56 L90 204.26 L91 203.93 L92 203.59 L93 203.23 L94 202.86 L95 202.47 L96 202.05 L97 201.6 L98 201.12 L99 200.59 L100 200 L100.33 199.79 L101 199.33 L101.33 199.09 L102 198.57 L102.33 198.29 L103 197.67 L103.33 197.33 L104 196.58 L104.33 196.16 L104.83 195.45 L105 195.19 L105.33 194.63 L105.83 193.66 L106 193.28 L106.33 192.46 L106.58 191.74 L106.83 190.91 L107 190.26 L107.08 189.92 L107.33 188.71 L107.53 187.48 L107.68 186.34 L107.83 184.89 L107.93 183.66 L108 182.59 L108.03 182.06 L108.13 179.81 L108.18 178.21 L108.23 175.95 L108.28 172.08 L108.33 171.8 L108.38 171.82 L108.43 175.74 L108.48 178.03 L108.53 179.65 L108.63 181.91 L108.73 183.51 L108.83 184.75 L108.98 186.19 L109 186.36 L109.13 187.32 L109.33 188.53 L109.58 189.72 L109.83 190.69 L110 191.25 L110.08 191.5 L110.33 192.19 L110.83 193.33 L111 193.66 L111.33 194.24 L111.83 194.98 L112 195.2 L112.33 195.61 L113 196.31 L113.33 196.62 L114 197.16 L114.33 197.42 L115 197.89 L115.33 198.1 L116 198.5 L116.33 198.67 L117 199 L118 199.43 L119 199.79 L120 200.1 L121 200.36 L122 200.59 L123 200.78 L124 200.94 L125 201.08 L126 201.21 L127 201.32 L128 201.41 L129 201.48 L130 201.53 L131 201.57 L132 201.6 L133 201.61 L134 201.61 L135 201.6 L136 201.61 L137 201.61 L138 201.6 L139 201.57 L140 201.54 L141 201.51 L142 201.46 L143 201.35 L144 201.24 L145 201.12 L146 200.99 L147 200.85 L148 200.71 L149 200.56 L150 200.4 L151 200.24 L152 200.08 L153 199.9 L154 199.72 L155 199.54 L156 199.34 L157 199.14 L158 198.94 L159 198.72 L160 198.5 L161 198.27 L162 198.03 L163 197.79 L164 197.53 L165 197.26 L166 196.96 L167 196.66 L168 196.33 L169 195.99 L170 195.63 L171 195.24 L172 194.82 L173 194.36 L174 193.86 L175 193.31 L175.42 193.06 L176 192.69 L176.42 192.4 L177 191.99 L177.42 191.66 L178 191.16 L178.42 190.77 L179 190.17 L179.42 189.68 L179.92 189.02 L180 188.91 L180.42 188.26 L180.92 187.35 L181 187.19 L181.42 186.23 L181.67 185.56 L181.92 184.78 L182 184.5 L182.17 183.86 L182.42 182.72 L182.62 181.58 L182.77 180.52 L182.92 179.18 L183 178.28 L183.02 178.03 L183.12 176.55 L183.22 174.46 L183.27 172.98 L183.32 170.88 L183.37 167.3 L183.42 166.3 L183.47 167.08 L183.52 170.84 L183.57 173.03 L183.62 174.57 L183.72 176.72 L183.82 178.23 L183.92 179.38 L184 180.15 L184.07 180.73 L184.22 181.78 L184.42 182.89 L184.67 183.99 L184.92 184.87 L185 185.12 L185.17 185.61 L185.42 186.24 L185.92 187.29 L186 187.43 L186.42 188.13 L186.92 188.84 L187 188.94 L187.42 189.44 L188 190.05 L188.42 190.44 L189 190.92 L189.42 191.23 L190 191.63 L190.42 191.9 L191 192.24 L191.42 192.46 L192 192.75 L193 193.21 L194 193.6 L195 193.95 L196 194.22 L197 194.45 L198 194.65 L199 194.83 L200 194.99 L201 195.12 L202 195.24 L203 195.34 L204 195.42 L205 195.49 L206 195.54 L207 195.58 L208 195.59 L209 195.59 L210 195.58 L211 195.55 L212 195.52 L213 195.47 L214 195.41 L215 195.34 L216 195.25 L217 195.15 L218 195.04 L219 194.92 L220 194.79 L221 194.64 L222 194.48 L223 194.3 L224 194.12 L225 193.92 L226 193.7 L227 193.47 L228 193.22 L229 192.98 L230 192.72 L231 192.43 L232 192.12 L233 191.78 L234 191.41 L235 191 L236 190.54 L237 190.02 L237.42 189.79 L238 189.44 L238.42 189.17 L239 188.77 L239.42 188.46 L240 187.98 L240.42 187.61 L241 187.03 L241.42 186.57 L241.92 185.94 L242 185.83 L242.42 185.22 L242.92 184.36 L243 184.21 L243.42 183.31 L243.67 182.68 L243.92 181.96 L244 181.7 L244.17 181.1 L244.42 180.04 L244.62 178.99 L244.77 178.01 L244.92 176.76 L245 175.94 L245.02 175.71 L245.12 174.35 L245.22 172.43 L245.27 171.06 L245.32 169.14 L245.37 165.86 L245.42 162.5 L245.47 164.82 L245.52 168.48 L245.57 170.6 L245.62 172.09 L245.72 174.17 L245.82 175.62 L245.92 176.73 L246 177.46 L246.07 178.01 L246.22 179.02 L246.42 180.08 L246.67 181.13 L246.92 181.98 L247 182.23 L247.17 182.7 L247.42 183.32 L247.92 184.35 L248 184.5 L248.42 185.2 L248.92 185.92 L249 186.03 L249.42 186.55 L250 187.2 L250.42 187.63 L251 188.17 L251.42 188.53 L252 189 L252.42 189.31 L253 189.72 L253.42 190 L254 190.37 L255 190.94 L256 191.47 L257 191.95 L258 192.39 L259 192.8 L260 193.18 L261 193.49 L262 193.77 L263 194.04 L264 194.28 L265 194.5 L266 194.68 L267 194.84 L268 194.98 L269 195.11 L270 195.22 L271 195.32 L272 195.45 L273 195.56 L274 195.66 L275 195.75 L276 195.84 L277 195.91 L278 195.97 L279 196.02 L280 196.07 L281 196.1 L282 196.13 L283 196.15 L284 196.16 L285 196.17 L286 196.17 L287 196.16 L288 196.15 L289 196.13 L290 196.1 L291 196.06 L292 196.03 L293 195.98 L294 195.93 L295 195.87 L296 195.81 L297 195.74 L298 195.66 L299 195.58 L300 195.5 L301 195.4 L302 195.31 L303 195.21 L304 195.1 L305 194.99 L306 194.87 L307 194.75 L308 194.6 L309 194.45 L310 194.29 L311 194.13 L312 193.96 L313 193.78 L314 193.6 L315 193.42 L316 193.22 L317 193.01 L318 192.79 L319 192.57 L320 192.34 L321 192.11 L322 191.86 L323 191.61 L324 191.36 L325 191.09 L326 190.81 L327 190.51 L328 190.21 L329 189.89 L330 189.55 L331 189.2 L332 188.83 L333 188.44 L334 188.01 L335 187.56 L336 187.06 L337 186.51 L337.55 186.18 L338 185.9 L338.55 185.53 L339 185.2 L339.55 184.78 L340 184.4 L340.55 183.9 L341 183.45 L341.55 182.84 L342 182.27 L342.05 182.2 L342.55 181.47 L343 180.7 L343.05 180.61 L343.55 179.55 L343.8 178.92 L344 178.35 L344.05 178.19 L344.3 177.33 L344.55 176.28 L344.75 175.22 L344.9 174.24 L345 173.45 L345.05 173 L345.15 171.95 L345.25 170.59 L345.35 168.67 L345.4 167.31 L345.45 165.4 L345.5 162.13 L345.55 160.1 L345.6 160.76 L345.65 164.47 L345.7 166.62 L345.75 168.14 L345.85 170.25 L345.95 171.74 L346 172.34 L346.05 172.88 L346.2 174.2 L346.35 175.24 L346.55 176.33 L346.8 177.42 L347 178.13 L347.05 178.29 L347.3 179.02 L347.55 179.65 L348 180.6 L348.05 180.69 L348.55 181.53 L349 182.17 L349.05 182.23 L349.55 182.84 L350 183.31 L350.55 183.83 L351 184.21 L351.55 184.63 L352 184.95 L352.55 185.31 L353 185.58 L353.55 185.89 L354 186.12 L355 186.6 L356 187.01 L357 187.38 L358 187.68 L359 187.95 L360 188.19 L361 188.4 L362 188.58 L363 188.74 L364 188.91 L365 189.05 L366 189.18 L367 189.29 L368 189.38 L369 189.46 L369.8 189.5"/>
<path d="M5 224.5H375.9" stroke="#000" stroke-opacity="0.5" stroke-width="0.7" fill="none"/>
<path d="M12.18 225V220 M26.44 225V222 M40.7 225V222 M54.96 225V222 M69.22 225V222 M83.48 225V220 M97.74 225V222 M112 225V222 M126.26 225V222 M140.52 225V222 M154.78 225V220 M169.04 225V222 M183.3 225V222 M197.56 225V222 M211.82 225V222 M226.08 225V220 M240.34 225V222 M254.6 225V222 M268.86 225V222 M283.12 225V222 M297.38 225V220 M311.64 225V222 M325.9 225V222 M340.16 225V222 M354.42 225V222 M368.68 225V220" stroke="#000" stroke-opacity="0.85" stroke-width="0.6" fill="none"/>
<g class="t" style="will-change:transform;filter:grayscale(1)"><text transform="translate(12.1 237.95) scale(1 1)">1000</text><text transform="translate(83.2 237.95) scale(1 1)">1001</text><text transform="translate(154.55 237.95) scale(1 1)">1002</text><text transform="translate(225.3 237.95) scale(1 1)">1003</text><text transform="translate(296.8 237.95) scale(1 1)">1004</text><text transform="translate(368.55 237.95) scale(1 1)">1005</text></g>
<g style="will-change:transform;filter:grayscale(1)"><text class="e" x="387" y="232.6">E</text></g>
</svg>
</body></html>
